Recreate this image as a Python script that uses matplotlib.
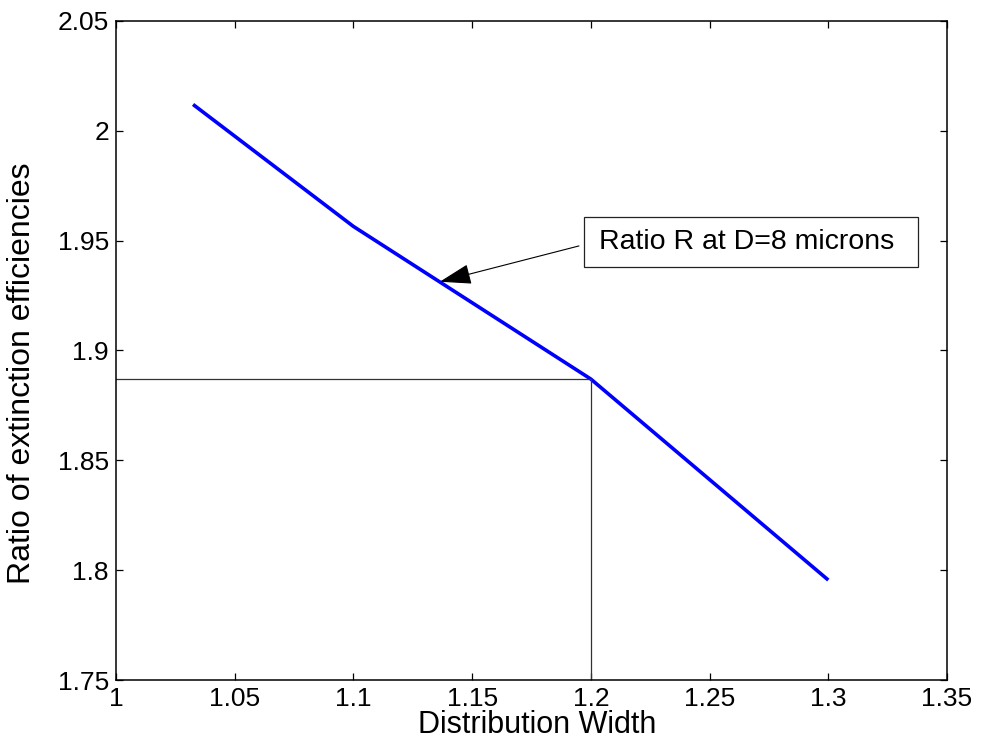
import matplotlib
matplotlib.use("Agg")
import matplotlib.pyplot as plt
from matplotlib.patches import Rectangle

plt.rcParams['font.family'] = ['Liberation Sans', 'DejaVu Sans']

# distribution width vs ratio of extinction efficiencies
width = [1.0325, 1.1, 1.2, 1.3]
ratio = [2.012, 1.9565, 1.887, 1.7955]

# marked operating point
mark_x = 1.2
mark_y = 1.887

xticks = [1, 1.05, 1.1, 1.15, 1.2, 1.25, 1.3, 1.35]
yticks = [1.75, 1.8, 1.85, 1.9, 1.95, 2, 2.05]

fig = plt.figure(figsize=(9.82, 7.44), dpi=100)
ax = fig.add_axes([0.118, 0.086, 0.8464, 0.8858])

ax.plot(width, ratio, color='#0000ff', lw=2.6, solid_capstyle='butt')

# guide lines to the point at 1.2
ax.plot([1.0, mark_x], [mark_y, mark_y], color='#333333', lw=0.9)
ax.plot([mark_x, mark_x], [1.75, mark_y], color='#333333', lw=0.9)

ax.set_xlim(1.0, 1.35)
ax.set_ylim(1.75, 2.05)
ax.set_xticks(xticks)
ax.set_xticklabels([f"{t:g}" for t in xticks])
ax.set_yticks(yticks)
ax.set_yticklabels([f"{t:g}" for t in yticks])
ax.tick_params(direction='in', length=5, width=0.9, top=True, right=True,
               labelsize=19, pad=5)
for s in ax.spines.values():
    s.set_linewidth(1.1)

ax.set_xlabel("Distribution Width", fontsize=22)
ax.xaxis.set_label_coords(0.507, -0.046)
ax.set_ylabel("Ratio of extinction efficiencies", fontsize=23)
ax.yaxis.set_label_coords(-0.095, 0.465)

# text arrow annotation
box_x0, box_y0, box_w, box_h = 1.1971, 1.938, 0.1406, 0.0228
ax.add_patch(Rectangle((box_x0, box_y0), box_w, box_h, fill=False,
                       edgecolor='#222222', lw=0.9, clip_on=False))
ax.text(box_x0 + 0.0062, box_y0 + box_h / 2, "Ratio R at D=8 microns",
        fontsize=20.5, va='center', ha='left')
ax.annotate("", xy=(1.1364, 1.9313), xytext=(1.195, 1.9476),
            arrowprops=dict(arrowstyle='-|>,head_length=1.0,head_width=0.32',
                            color='black', lw=0.8, shrinkA=0, shrinkB=0,
                            mutation_scale=20))

fig.savefig("out.png", dpi=100)
